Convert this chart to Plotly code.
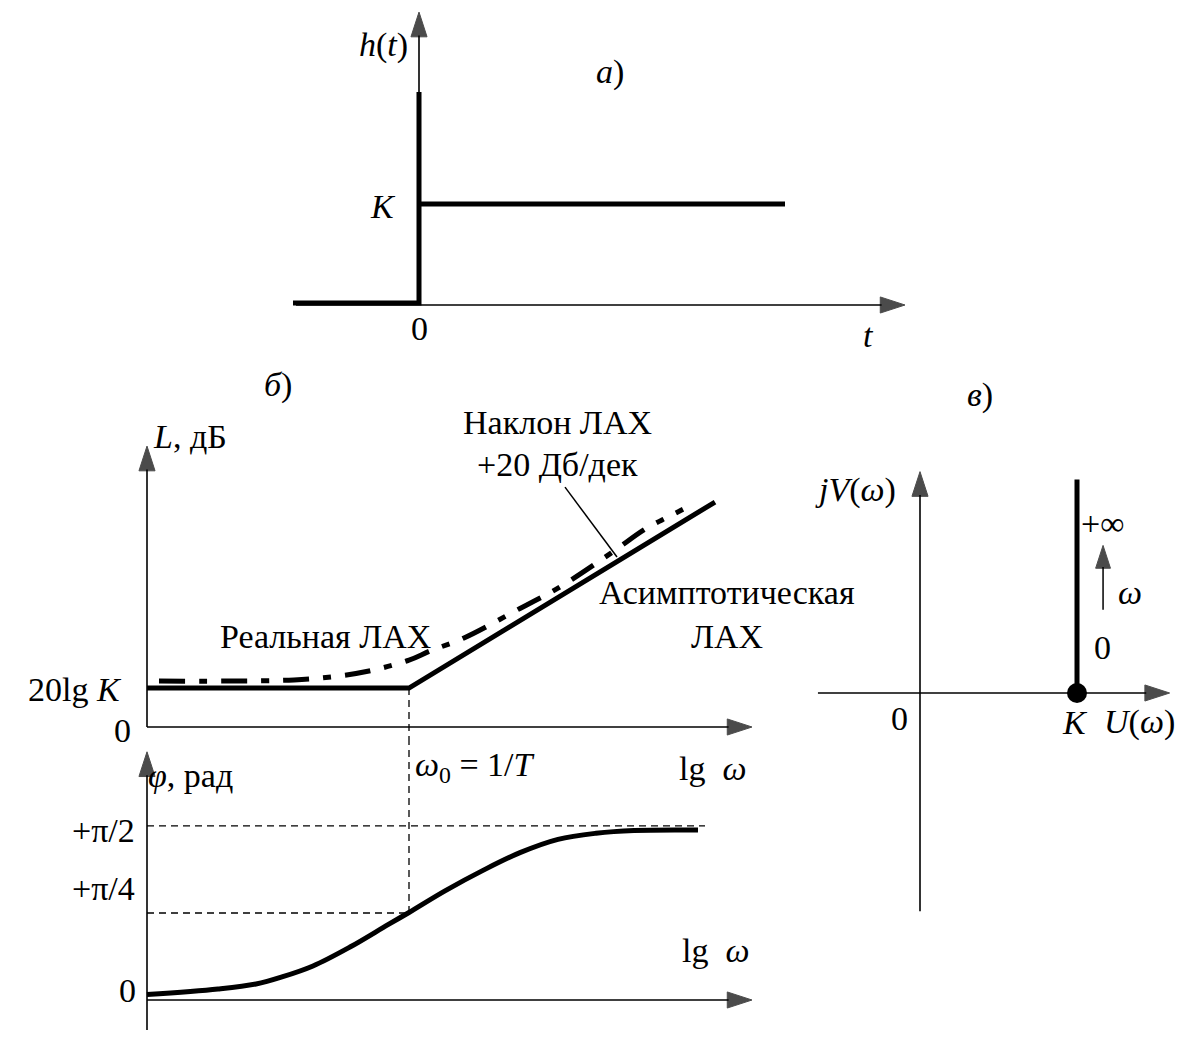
import plotly.graph_objects as go
import numpy as np

# reference picture size; the page body has an 8 px margin, so the figure is
# drawn 8 px in from the top-left corner and made smaller to fit the window
REF_W, REF_H = 1189, 1039
OFF = 8
W, H = REF_W - 2 * OFF, REF_H - 2 * OFF
FONT = "Liberation Serif, Times New Roman, serif"
FS = 34

# ---- panel a: step response h(t) ----
T_AXIS = [-1.23, 4.86]
H_AXIS = [0.0, 2.9]
STEP_T = [-1.26, 0.0, 0.0]
STEP_H = [0.02, 0.02, 2.11]
K_LINE_T = [0.0, 3.66]
K_LINE_H = [1.0, 1.0]

# ---- panel b: LAX (lg w, dB) ----
LGW_AXIS = [0.0, 6.05]
L_AXIS = [0.0, 92.4]
ASYM_LGW = [0.0, 2.62, 5.68]
ASYM_L = [12.8, 12.8, 74.0]
REAL_LGW = [0.12, 1.47, 1.92, 2.22, 2.62, 2.83, 3.17, 3.73, 4.11, 4.64, 4.98, 5.21, 5.36]
REAL_L = [15.1, 15.5, 16.8, 18.4, 22.0, 25.0, 29.3, 39.0, 45.7, 57.2, 65.1, 69.1, 71.6]
LEADER_LGW = [4.18, 4.70]
LEADER_L = [78.9, 55.9]
LGW0 = 2.62
L_K = 12.8

# ---- panel b: phase (lg w, rad) ----
PHI_AXIS = [-0.27, 2.24]
PHASE_LGW = [0.0, 0.71, 1.09, 1.35, 1.66, 2.03, 2.41, 2.62, 2.98, 3.36, 3.73, 4.11, 4.49, 4.87, 5.51]
PHASE = [0.049, 0.099, 0.144, 0.208, 0.307, 0.478, 0.68, 0.79, 0.985, 1.17, 1.33, 1.45, 1.505, 1.53, 1.534]
PI2_LINE_END = 5.58
PHI_TICKS = [0.0, np.pi / 4, np.pi / 2]
PHI_TICK_TEXT = ["0", "+π/4", "+π/2"]

# ---- panel c: Nyquist plot ----
U_AXIS = [-0.65, 1.59]
V_AXIS = [-1.39, 1.41]
AFC_U = [1.0, 1.0]
AFC_V = [0.0, 1.36]
OMEGA_ARROW_U = [1.166, 1.166]
OMEGA_ARROW_V = [0.53, 0.94]

# panel layout in reference pixels: box, origin, px per unit
PANELS = {
    "1": dict(box=(280, 920, 8, 350), org=(419, 305), scale=(100, 101)),
    "2": dict(box=(8, 790, 380, 742), org=(147, 727), scale=(100, 3.04)),
    "3": dict(box=(8, 790, 742, 1031), org=(147, 1000), scale=(100, 110.8)),
    "4": dict(box=(800, 1181, 370, 930), org=(920, 693), scale=(157, 157)),
}

fig = go.Figure()


def ax(n):
    return ("x" if n == "1" else "x" + n), ("y" if n == "1" else "y" + n)


def line(n, x, y, width=1.6, dash="solid", arrow=0, shape="linear"):
    xa, ya = ax(n)
    tr = go.Scatter(x=x, y=y, xaxis=xa, yaxis=ya, mode="lines",
                    line=dict(color="black", width=width, dash=dash, shape=shape),
                    hoverinfo="skip", showlegend=False)
    if arrow:
        tr.mode = "lines+markers"
        tr.marker = dict(symbol="arrow", size=[0] * (len(x) - 1) + [arrow],
                         angleref="previous", color="black",
                         line=dict(color="black", width=1))
    fig.add_trace(tr)


def label(n, text, x, y, size=FS):
    xa, ya = ax(n)
    fig.add_annotation(text=text, x=x, y=y, xref=xa, yref=ya, showarrow=False,
                       font=dict(family=FONT, size=size, color="black"),
                       xanchor="center", yanchor="middle")


# panel a
line("1", T_AXIS, [0, 0], arrow=26)
line("1", [0, 0], H_AXIS, arrow=26)
line("1", STEP_T, STEP_H, width=5)
line("1", K_LINE_T, K_LINE_H, width=5)
label("1", "<i>h</i>(<i>t</i>)", -0.36, 2.57)
label("1", "<i>а</i>)", 1.91, 2.31)
label("1", "<i>K</i>", -0.36, 0.98)
label("1", "0", 0.0, -0.23)
label("1", "<i>t</i>", 4.49, -0.30)

# LAX
p2 = PANELS["2"]
l_bottom = (p2["org"][1] - p2["box"][3]) / p2["scale"][1]
line("2", LGW_AXIS, [0, 0], arrow=26)
line("2", [0, 0], L_AXIS, arrow=26)
line("2", [LGW0, LGW0], [L_K, l_bottom], width=1.3, dash="7px,5px")
line("2", ASYM_LGW, ASYM_L, width=5)
line("2", REAL_LGW, REAL_L, width=5, dash="26px,14px,8px,14px", shape="spline")
line("2", LEADER_LGW, LEADER_L, width=1.5)
label("2", "<i>L</i>, дБ", 0.43, 95.4)
label("2", "<i>б</i>)", 1.31, 112.5)
label("2", "Наклон ЛАХ", 4.10, 100.3)
label("2", "+20 Дб/дек", 4.10, 86.2)
label("2", "Асимптотическая", 5.80, 44.1)
label("2", "ЛАХ", 5.80, 29.9)
label("2", "Реальная ЛАХ", 1.78, 29.9)
label("2", "20lg <i>K</i>", -0.72, 12.2)
label("2", "0", -0.25, -1.0)

# phase
p3 = PANELS["3"]
phi_top = (p3["org"][1] - p3["box"][2]) / p3["scale"][1]
line("3", LGW_AXIS, [0, 0], arrow=26)
line("3", [0, 0], PHI_AXIS, arrow=26)
line("3", [0, PI2_LINE_END], [PHI_TICKS[2]] * 2, width=1.3, dash="7px,5px")
line("3", [0, LGW0], [PHI_TICKS[1]] * 2, width=1.3, dash="7px,5px")
line("3", [LGW0, LGW0], [PHI_TICKS[1], phi_top], width=1.3, dash="7px,5px")
line("3", PHASE_LGW, PHASE, width=5, shape="spline")
label("3", "<i>ω</i><sub>0</sub> = 1/<i>T</i>", 3.28, 2.10)
label("3", "lg\u00a0 <i>ω</i>", 5.65, 2.09)
label("3", "<i>φ</i>, рад", 0.43, 2.03)
label("3", PHI_TICK_TEXT[2], -0.44, PHI_TICKS[2] - 0.04)
label("3", PHI_TICK_TEXT[1], -0.44, PHI_TICKS[1] + 0.22)
label("3", PHI_TICK_TEXT[0], -0.20, PHI_TICKS[0] + 0.09)
label("3", "lg\u00a0 <i>ω</i>", 5.68, 0.45)

# Nyquist
line("4", U_AXIS, [0, 0], arrow=26)
line("4", [0, 0], V_AXIS, arrow=26)
line("4", AFC_U, AFC_V, width=5)
line("4", OMEGA_ARROW_U, OMEGA_ARROW_V, width=1.5, arrow=24)
fig.add_trace(go.Scatter(x=[AFC_U[0]], y=[AFC_V[0]], xaxis="x4", yaxis="y4", mode="markers",
                         marker=dict(size=20, color="black"), hoverinfo="skip", showlegend=False))
label("4", "<i>jV</i>(<i>ω</i>)", -0.41, 1.29)
label("4", "<i>в</i>)", 0.38, 1.90)
label("4", "+∞", 1.16, 1.08)
label("4", "<i>ω</i>", 1.34, 0.64)
label("4", "0", 1.16, 0.29)
label("4", "0", -0.13, -0.16)
label("4", "<i>K</i>", 0.99, -0.185)
label("4", "<i>U</i>(<i>ω</i>)", 1.40, -0.185)

layout = dict(width=W, height=H, margin=dict(l=0, r=0, t=0, b=0),
              paper_bgcolor="white", plot_bgcolor="white", showlegend=False)
for n, p in PANELS.items():
    x0, x1, y0, y1 = p["box"]
    ox, oy = p["org"]
    sx, sy = p["scale"]
    xa, ya = ax(n)
    xkey = "xaxis" if n == "1" else "xaxis" + n
    ykey = "yaxis" if n == "1" else "yaxis" + n
    layout[xkey] = dict(domain=[(x0 - OFF) / W, (x1 - OFF) / W],
                        range=[(x0 - ox) / sx, (x1 - ox) / sx],
                        anchor=ya, visible=False, fixedrange=True)
    layout[ykey] = dict(domain=[1 - (y1 - OFF) / H, 1 - (y0 - OFF) / H],
                        range=[(oy - y1) / sy, (oy - y0) / sy],
                        anchor=xa, visible=False, fixedrange=True)
fig.update_layout(**layout)

fig.write_html("out.html")
